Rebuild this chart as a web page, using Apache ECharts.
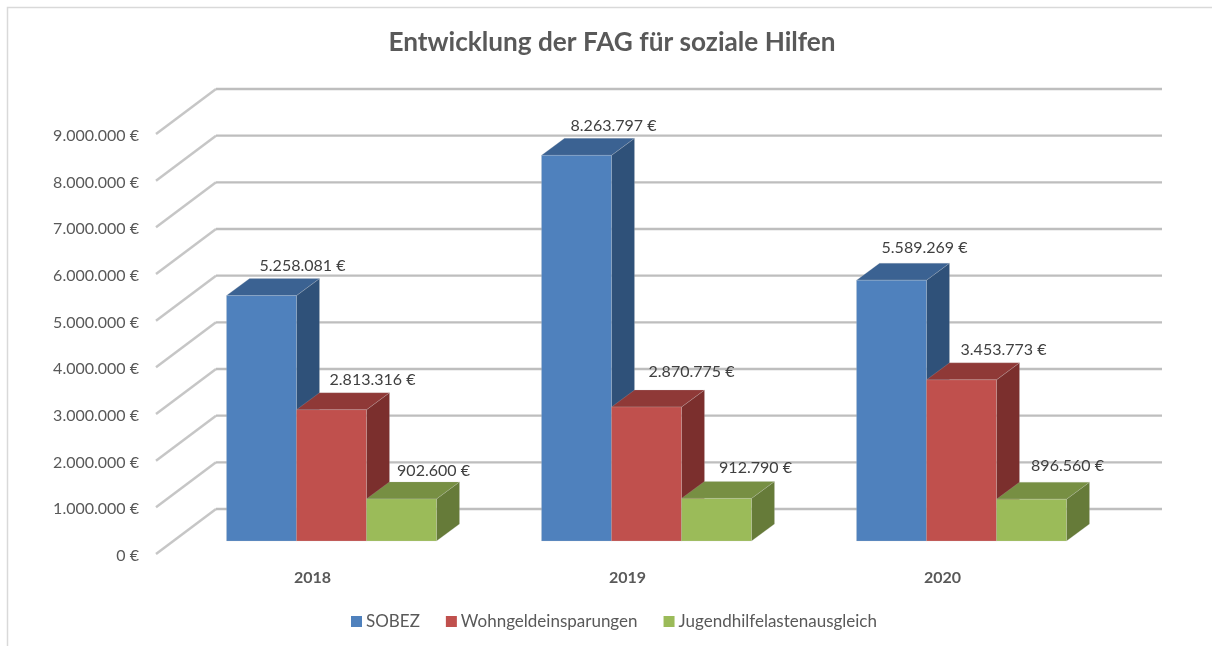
<!DOCTYPE html>
<html>
<head>
<meta charset="utf-8">
<style>html,body{margin:0;padding:0;background:#fff}#c{width:1212px;height:646px}</style>
<script src="https://cdn.jsdelivr.net/npm/echarts@6/dist/echarts.min.js"></script>
</head>
<body>
<div id="c"></div>
<script>
const chartTitle = 'Entwicklung der FAG für soziale Hilfen';
const categories = ['2018', '2019', '2020'];
const seriesNames = ['SOBEZ', 'Wohngeldeinsparungen', 'Jugendhilfelastenausgleich'];
const sobez = [5258081, 8263797, 5589269];
const wohngeld = [2813316, 2870775, 3453773];
const jugendhilfe = [902600, 912790, 896560];
const yTicks = [0, 1000000, 2000000, 3000000, 4000000, 5000000, 6000000, 7000000, 8000000, 9000000];

const seriesValues = [sobez, wohngeld, jugendhilfe];
const faces = [
  { front: '#4f81bd', top: '#3b6292', side: '#2f5179' },
  { front: '#c0504d', top: '#8f3937', side: '#7b2f2d' },
  { front: '#9bbb59', top: '#778f43', side: '#667b39' }
];
// hand-placed label nudges as seen in the original: labelNudge[series][category] = [dx, dy]
const labelNudge = [
  [[0, -1], [-4, -1], [-8, -3]],
  [[0, -1], [4, -6], [1, -1]],
  [[-9, 1], [-2, -2], [-5, -4]]
];
const DEPTH_X = 23, DEPTH_Y = 17;
const TEXT = '#595959';
const LABEL_TEXT = '#404040';
const FONT = 'Lato, "Open Sans", sans-serif';
const fmt = v => String(v).replace(/\B(?=(\d{3})+(?!\d))/g, '.') + ' €';

function renderBar(sIdx) {
  return function (params, api) {
    const cat = api.value(0), val = api.value(1);
    const base = api.coord([cat, 0]);
    const topPt = api.coord([cat, val]);
    const w = api.size([1, 0])[0] * 2 / 9;
    const x0 = base[0] + (sIdx - 1.5) * w, x1 = x0 + w;
    const y0 = base[1], y1 = topPt[1];
    const dx = DEPTH_X, dy = DEPTH_Y;
    const f = faces[sIdx];
    const n = labelNudge[sIdx][cat];
    const edge = 'rgba(200,200,200,0.3)';
    const poly = (points, fill) => ({
      type: 'polygon',
      shape: { points },
      style: { fill, stroke: edge, lineWidth: 0.7 }
    });
    return {
      type: 'group',
      children: [
        poly([[x1, y1], [x1 + dx, y1 - dy], [x1 + dx, y0 - dy], [x1, y0]], f.side),
        poly([[x0, y1], [x0 + dx, y1 - dy], [x1 + dx, y1 - dy], [x1, y1]], f.top),
        poly([[x0, y1], [x1, y1], [x1, y0], [x0, y0]], f.front),
        {
          type: 'text',
          z2: 100,
          x: (x0 + x1) / 2 + 41 + n[0],
          y: y1 - 29 + n[1],
          style: {
            text: fmt(val), fill: LABEL_TEXT, font: '16px ' + FONT,
            align: 'center', verticalAlign: 'middle'
          }
        }
      ]
    };
  };
}

function renderGridline(params, api) {
  const p = api.coord([0, api.value(1)]);
  const cs = params.coordSys;
  const backY = p[1] - 32, frontY = p[1] + 13;
  return {
    type: 'group',
    children: [
      { type: 'polyline',
        shape: { points: [[cs.x - 18, frontY], [cs.x + 42, backY]] },
        style: { stroke: '#c6c6c6', lineWidth: 2.4, fill: null } },
      { type: 'polyline',
        shape: { points: [[cs.x + 42, backY], [cs.x + cs.width + 43, backY]] },
        style: { stroke: '#bebebe', lineWidth: 2.4, fill: null } }
    ]
  };
}

const hidden = { show: false };
const chart = echarts.init(document.getElementById('c'), null, { renderer: 'canvas' });
chart.setOption({
  animation: false,
  backgroundColor: '#ffffff',
  textStyle: { fontFamily: FONT },
  graphic: [{
    type: 'rect', silent: true, z: -1,
    shape: { x: 7.5, y: 7.5, width: 1400, height: 900 },
    style: { fill: '#fff', stroke: '#d9d9d9', lineWidth: 1.5 }
  }],
  title: {
    text: chartTitle, left: 607, top: 25, textAlign: 'center',
    textStyle: { color: TEXT, fontSize: 26.2, fontWeight: 'bold', fontFamily: FONT }
  },
  // grid 0: plane of the bar fronts; grid 1: front edge of the 3D box, which carries the axis labels
  grid: [
    { left: 174, top: 121, width: 945, height: 420 },
    { left: 155, top: 136, width: 945, height: 420 }
  ],
  legend: {
    bottom: 11, left: 346,
    data: seriesNames,
    icon: 'rect', itemWidth: 11, itemHeight: 11, itemGap: 26,
    textStyle: { color: TEXT, fontSize: 17, fontFamily: FONT, padding: [0, 0, 0, -1] }
  },
  xAxis: [
    { type: 'category', gridIndex: 0, data: categories,
      axisLine: hidden, axisTick: hidden, splitLine: hidden, axisLabel: hidden },
    { type: 'category', gridIndex: 1, data: categories,
      axisLine: hidden, axisTick: hidden, splitLine: hidden,
      axisLabel: { color: TEXT, fontSize: 16, fontWeight: 'bold', margin: 14, fontFamily: FONT } }
  ],
  yAxis: [
    { type: 'value', gridIndex: 0, min: 0, max: 9000000, interval: 1000000,
      axisLine: hidden, axisTick: hidden, splitLine: hidden, axisLabel: hidden },
    { type: 'value', gridIndex: 1, min: 0, max: 9000000, interval: 1000000,
      axisLine: hidden, axisTick: hidden, splitLine: hidden,
      axisLabel: { color: TEXT, fontSize: 16, margin: 16, fontFamily: FONT, formatter: v => fmt(v) } }
  ],
  series: [
    {
      type: 'custom', name: 'grid', silent: true, clip: false, z: 1,
      xAxisIndex: 0, yAxisIndex: 0,
      renderItem: renderGridline,
      encode: { x: 0, y: 1 },
      data: yTicks.map(v => [0, v])
    }
  ].concat(seriesNames.map((name, i) => ({
    type: 'custom', name, clip: false, z: 2 + i,
    xAxisIndex: 0, yAxisIndex: 0,
    itemStyle: { color: faces[i].front },
    renderItem: renderBar(i),
    encode: { x: 0, y: 1 },
    data: seriesValues[i].map((v, c) => [c, v])
  })))
});
</script>
</body>
</html>
